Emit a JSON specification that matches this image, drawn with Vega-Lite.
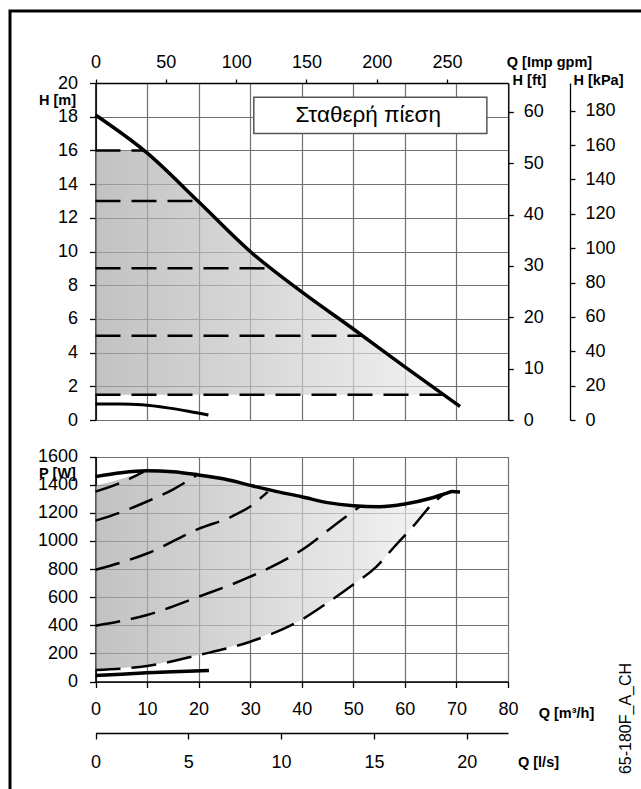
{
  "$schema": "https://vega.github.io/schema/vega-lite/v6.json",
  "width": 660,
  "height": 800,
  "autosize": {"type": "none"},
  "padding": {"left": 10, "top": 11, "right": 0, "bottom": 0},
  "background": "white",
  "config": {
    "view": {"stroke": "#000", "strokeWidth": 3},
    "axis": {
      "labelFont": "Liberation Sans", "labelFontSize": 18, "labelColor": "#000",
      "titleFont": "Liberation Sans", "titleFontSize": 14.5, "titleFontWeight": "bold", "titleColor": "#000",
      "domainColor": "#000", "domainWidth": 1.3, "tickColor": "#000", "tickWidth": 1.3,
      "gridColor": "#707070", "gridWidth": 1.2, "gridOpacity": 1,
      "labelOverlap": false, "labelFlush": false, "labelBound": false
    }
  },
  "datasets": {
    "hmax": [
      {"q": 0, "h": 18.1}, {"q": 10, "h": 15.85}, {"q": 20, "h": 12.95}, {"q": 30, "h": 10.0},
      {"q": 40, "h": 7.6}, {"q": 50, "h": 5.4}, {"q": 60, "h": 3.15}, {"q": 70.7, "h": 0.8}
    ],
    "hshade": [
      {"q": 0, "h": 16.0}, {"q": 9.3, "h": 16.0}, {"q": 10, "h": 15.85}, {"q": 20, "h": 12.95},
      {"q": 30, "h": 10.0}, {"q": 40, "h": 7.6}, {"q": 50, "h": 5.4}, {"q": 60, "h": 3.15},
      {"q": 67.4, "h": 1.5}
    ],
    "hmin": [
      {"q": 0, "h": 0.95}, {"q": 5, "h": 0.95}, {"q": 9, "h": 0.9}, {"q": 14, "h": 0.72},
      {"q": 18, "h": 0.52}, {"q": 21.9, "h": 0.3}
    ],
    "hconst": [
      {"h": 16, "q1": 0, "q2": 9.3}, {"h": 13, "q1": 0, "q2": 19.8}, {"h": 9, "q1": 0, "q2": 34.2},
      {"h": 5, "q1": 0, "q2": 51.8}, {"h": 1.5, "q1": 0, "q2": 67.4}
    ],
    "box": [{"q1": 30.7, "q2": 75.9, "h1": 17.0, "h2": 19.15, "qt": 52.9, "ht": 18.1, "label": "Σταθερή πίεση"}],
    "pmax": [
      {"q": 0, "p": 1457}, {"q": 5, "p": 1485}, {"q": 10, "p": 1499}, {"q": 15, "p": 1492},
      {"q": 20, "p": 1469}, {"q": 25, "p": 1440}, {"q": 30, "p": 1395}, {"q": 35, "p": 1352},
      {"q": 40, "p": 1314}, {"q": 45, "p": 1272}, {"q": 50, "p": 1250}, {"q": 55, "p": 1243},
      {"q": 60, "p": 1262}, {"q": 65, "p": 1303}, {"q": 68, "p": 1338}, {"q": 69.2, "p": 1352},
      {"q": 70.7, "p": 1348}
    ],
    "pmin": [
      {"q": 0, "p": 42}, {"q": 5, "p": 52}, {"q": 10, "p": 62}, {"q": 15, "p": 70}, {"q": 22, "p": 78}
    ],
    "pconst": [
      {"level": "16", "q": 0, "p": 1350}, {"level": "16", "q": 5, "p": 1415}, {"level": "16", "q": 9.3, "p": 1490},
      {"level": "13", "q": 0, "p": 1144}, {"level": "13", "q": 5, "p": 1205}, {"level": "13", "q": 10, "p": 1280},
      {"level": "13", "q": 15, "p": 1365}, {"level": "13", "q": 19.6, "p": 1466},
      {"level": "9", "q": 0, "p": 795}, {"level": "9", "q": 10, "p": 910}, {"level": "9", "q": 20, "p": 1085},
      {"level": "9", "q": 26.5, "p": 1175}, {"level": "9", "q": 30, "p": 1245}, {"level": "9", "q": 33.4, "p": 1348},
      {"level": "5", "q": 0, "p": 397}, {"level": "5", "q": 10, "p": 473}, {"level": "5", "q": 20, "p": 603},
      {"level": "5", "q": 30, "p": 745}, {"level": "5", "q": 40, "p": 935}, {"level": "5", "q": 47.7, "p": 1149},
      {"level": "5", "q": 51.5, "p": 1250},
      {"level": "1.5", "q": 0, "p": 82}, {"level": "1.5", "q": 10, "p": 110}, {"level": "1.5", "q": 20, "p": 188},
      {"level": "1.5", "q": 30, "p": 283}, {"level": "1.5", "q": 40, "p": 440}, {"level": "1.5", "q": 45, "p": 560},
      {"level": "1.5", "q": 50, "p": 690}, {"level": "1.5", "q": 54.5, "p": 817}, {"level": "1.5", "q": 58, "p": 960},
      {"level": "1.5", "q": 62, "p": 1120}, {"level": "1.5", "q": 65, "p": 1250}, {"level": "1.5", "q": 67.8, "p": 1340}
    ],
    "pshade": [
      {"q": 0, "top": 1390, "bottom": 82}, {"q": 5, "top": 1440, "bottom": 96}, {"q": 9.3, "top": 1490, "bottom": 108},
      {"q": 10, "top": 1495, "bottom": 110}, {"q": 15, "top": 1489, "bottom": 147}, {"q": 20, "top": 1467, "bottom": 188},
      {"q": 25, "top": 1438, "bottom": 235}, {"q": 30, "top": 1393, "bottom": 283}, {"q": 35, "top": 1350, "bottom": 361},
      {"q": 40, "top": 1312, "bottom": 440}, {"q": 45, "top": 1270, "bottom": 560}, {"q": 50, "top": 1248, "bottom": 690},
      {"q": 55, "top": 1240, "bottom": 837}, {"q": 60, "top": 1235, "bottom": 1040}, {"q": 64.5, "top": 1228, "bottom": 1228}
    ]
  },
  "resolve": {
    "scale": {"x": "independent", "y": "independent"},
    "axis": {"x": "independent", "y": "independent"}
  },
  "layer": [
    {
      "data": {"name": "hshade"},
      "mark": {"type": "area", "fillOpacity": 0.7, "fill": {"gradient": "linear", "x1": 0, "y1": 0, "x2": 1, "y2": 0, "stops": [{"offset": 0, "color": "#a8a8a8"}, {"offset": 1, "color": "#ececec"}]}},
      "encoding": {
        "x": {"field": "q", "type": "quantitative", "scale": {"domain": [0, 80], "range": [85.5, 498], "nice": false},
              "axis": {"orient": "top", "offset": 0, "grid": true, "labels": false, "ticks": false, "domain": false, "title": null, "values": [0, 10, 20, 30, 40, 50, 60, 70, 80]}},
        "y": {"field": "h", "type": "quantitative", "scale": {"domain": [0, 20], "range": [409, 72], "nice": false},
              "axis": {"orient": "left", "offset": 0, "grid": true, "labels": false, "ticks": false, "domain": false, "title": null, "values": [0, 2, 4, 6, 8, 10, 12, 14, 16, 18, 20]}},
        "y2": {"datum": 1.5}
      }
    },
    {
      "data": {"name": "hconst"},
      "mark": {"type": "rule", "color": "#000", "strokeWidth": 2.5, "strokeDash": [25, 11]},
      "encoding": {
        "x": {"field": "q1", "type": "quantitative", "scale": {"domain": [0, 80], "range": [85.5, 498], "nice": false},
              "axis": {"orient": "top", "offset": -72, "grid": false, "values": [0, 13.6383, 27.2765, 40.9148, 54.5531, 68.1914],
                       "labelExpr": "format(datum.value/0.2727654,'d')", "tickSize": 4, "labelPadding": 8,
                       "title": "Q [Imp gpm]", "titleAngle": 0, "titleX": 539, "titleY": -21, "titleAlign": "center", "titleBaseline": "middle"}},
        "x2": {"field": "q2"},
        "y": {"field": "h", "type": "quantitative", "scale": {"domain": [0, 20], "range": [409, 72], "nice": false},
              "axis": {"orient": "right", "offset": -161.7, "grid": false, "values": [0, 3.048, 6.096, 9.144, 12.192, 15.24, 18.288],
                       "labelExpr": "format(datum.value/0.3048,'d')", "tickSize": 5, "labelPadding": 10,
                       "title": "H [ft]", "titleAngle": 0, "titleX": 20.7, "titleY": 69, "titleAlign": "center", "titleBaseline": "middle"}}
      }
    },
    {
      "data": {"name": "hmax"},
      "mark": {"type": "line", "color": "#000", "strokeWidth": 3.5, "interpolate": "monotone"},
      "encoding": {
        "x": {"field": "q", "type": "quantitative", "scale": {"domain": [0, 80], "range": [85.5, 498], "nice": false}, "axis": null},
        "y": {"field": "h", "type": "quantitative", "scale": {"domain": [0, 20], "range": [409, 72], "nice": false},
              "axis": {"orient": "right", "offset": -100, "grid": false,
                       "values": [0, 2.03943, 4.07886, 6.11830, 8.15773, 10.19716, 12.23659, 14.27603, 16.31546, 18.35489],
                       "labelExpr": "format(datum.value*9.80665,'d')", "tickSize": 5, "labelPadding": 10,
                       "title": "H [kPa]", "titleAngle": 0, "titleX": 28, "titleY": 69, "titleAlign": "center", "titleBaseline": "middle"}}
      }
    },
    {
      "data": {"name": "hmin"},
      "mark": {"type": "line", "color": "#000", "strokeWidth": 3, "interpolate": "monotone"},
      "encoding": {
        "x": {"field": "q", "type": "quantitative", "scale": {"domain": [0, 80], "range": [85.5, 498], "nice": false}, "axis": null},
        "y": {"field": "h", "type": "quantitative", "scale": {"domain": [0, 20], "range": [409, 72], "nice": false},
              "axis": {"orient": "left", "offset": -85.5, "grid": false, "values": [0, 2, 4, 6, 8, 10, 12, 14, 16, 18, 20], "format": "d",
                       "tickSize": 6, "labelPadding": 12, "domainWidth": 1.6,
                       "title": "H [m]", "titleAngle": 0, "titleX": -38.5, "titleY": 89, "titleAlign": "center", "titleBaseline": "middle"}}
      }
    },
    {
      "data": {"name": "box"},
      "mark": {"type": "rect", "fill": "#fff", "stroke": "#555", "strokeWidth": 1.5},
      "encoding": {
        "x": {"field": "q1", "type": "quantitative", "scale": {"domain": [0, 80], "range": [85.5, 498], "nice": false}, "axis": null},
        "x2": {"field": "q2"},
        "y": {"field": "h1", "type": "quantitative", "scale": {"domain": [0, 20], "range": [409, 72], "nice": false}, "axis": null},
        "y2": {"field": "h2"}
      }
    },
    {
      "data": {"name": "box"},
      "mark": {"type": "text", "font": "Liberation Sans", "fontSize": 22.5, "color": "#000", "align": "center", "baseline": "middle"},
      "encoding": {
        "x": {"field": "qt", "type": "quantitative", "scale": {"domain": [0, 80], "range": [85.5, 498], "nice": false}, "axis": null},
        "y": {"field": "ht", "type": "quantitative", "scale": {"domain": [0, 20], "range": [409, 72], "nice": false}, "axis": null},
        "text": {"field": "label"}
      }
    },
    {
      "data": {"name": "pshade"},
      "mark": {"type": "area", "fillOpacity": 0.7, "fill": {"gradient": "linear", "x1": 0, "y1": 0, "x2": 1, "y2": 0, "stops": [{"offset": 0, "color": "#a8a8a8"}, {"offset": 1, "color": "#eeeeee"}]}},
      "encoding": {
        "x": {"field": "q", "type": "quantitative", "scale": {"domain": [0, 80], "range": [85.5, 498], "nice": false},
              "axis": {"orient": "top", "offset": 0, "grid": true, "labels": false, "ticks": false, "domain": false, "title": null, "values": [0, 10, 20, 30, 40, 50, 60, 70, 80]}},
        "y": {"field": "top", "type": "quantitative", "scale": {"domain": [0, 1600], "range": [670.5, 445.5], "nice": false},
              "axis": {"orient": "left", "offset": 0, "grid": true, "labels": false, "ticks": false, "domain": false, "title": null, "values": [0, 200, 400, 600, 800, 1000, 1200, 1400, 1600]}},
        "y2": {"field": "bottom"}
      }
    },
    {
      "data": {"name": "pconst"},
      "mark": {"type": "line", "color": "#000", "strokeWidth": 2.5, "strokeDash": [25, 11], "interpolate": "monotone"},
      "encoding": {
        "x": {"field": "q", "type": "quantitative", "scale": {"domain": [0, 80], "range": [85.5, 498], "nice": false},
              "axis": {"orient": "bottom", "offset": -129.5, "grid": false, "values": [0, 10, 20, 30, 40, 50, 60, 70, 80], "format": "d",
                       "tickSize": 6, "labelPadding": 13,
                       "title": "Q [m³/h]", "titleAngle": 0, "titleX": 556, "titleY": 31.5, "titleAlign": "center", "titleBaseline": "middle"}},
        "y": {"field": "p", "type": "quantitative", "scale": {"domain": [0, 1600], "range": [670.5, 445.5], "nice": false},
              "axis": {"orient": "left", "offset": -85.5, "grid": false, "values": [0, 200, 400, 600, 800, 1000, 1200, 1400, 1600], "format": "d",
                       "tickSize": 6, "labelPadding": 12, "domainWidth": 1.6,
                       "title": "P [W]", "titleAngle": 0, "titleX": -38.5, "titleY": 462, "titleAlign": "center", "titleBaseline": "middle"}},
        "detail": {"field": "level", "type": "nominal"}
      }
    },
    {
      "data": {"name": "pmax"},
      "mark": {"type": "line", "color": "#000", "strokeWidth": 3.5, "interpolate": "monotone"},
      "encoding": {
        "x": {"field": "q", "type": "quantitative", "scale": {"domain": [0, 80], "range": [85.5, 498], "nice": false},
              "axis": {"orient": "bottom", "offset": -78, "grid": false, "values": [0, 18, 36, 54, 72],
                       "labelExpr": "format(datum.value/3.6,'d')", "tickSize": 6, "labelPadding": 14,
                       "title": "Q [l/s]", "titleAngle": 0, "titleX": 528, "titleY": 29, "titleAlign": "center", "titleBaseline": "middle"}},
        "y": {"field": "p", "type": "quantitative", "scale": {"domain": [0, 1600], "range": [670.5, 445.5], "nice": false},
              "axis": {"orient": "right", "offset": 0, "grid": false, "labels": false, "ticks": false, "domain": false,
                       "title": "65-180F_A_CH", "titleAngle": 270, "titleX": -45, "titleY": 707, "titleFontWeight": "normal", "titleFontSize": 16,
                       "titleAlign": "center", "titleBaseline": "middle"}}
      }
    },
    {
      "data": {"name": "pmin"},
      "mark": {"type": "line", "color": "#000", "strokeWidth": 3.5, "interpolate": "monotone"},
      "encoding": {
        "x": {"field": "q", "type": "quantitative", "scale": {"domain": [0, 80], "range": [85.5, 498], "nice": false}, "axis": null},
        "y": {"field": "p", "type": "quantitative", "scale": {"domain": [0, 1600], "range": [670.5, 445.5], "nice": false}, "axis": null}
      }
    }
  ]
}
